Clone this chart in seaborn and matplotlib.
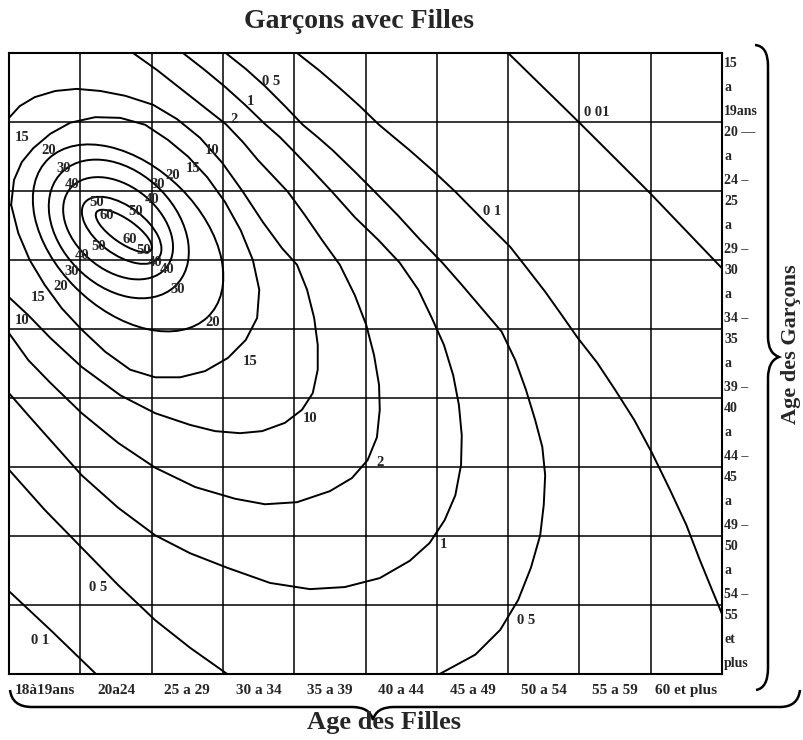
import matplotlib
matplotlib.use("Agg")
import matplotlib.pyplot as plt
from matplotlib.path import Path
from matplotlib.patches import PathPatch, Ellipse
import seaborn as sns
import pandas as pd

# Age groups (columns = girls, rows = boys)
girls_ages = ["18à19ans", "20a24", "25 a 29", "30 a 34", "35 a 39",
              "40 a 44", "45 a 49", "50 a 54", "55 a 59", "60 et plus"]
boys_ages = [("15", "a", "19ans"), ("20 —", "a", "24 –"), ("25", "a", "29 –"),
             ("30", "a", "34 –"), ("35", "a", "39 –"), ("40", "a", "44 –"),
             ("45", "a", "49 –"), ("50", "a", "54 –"), ("55", "et", "plus")]

# Inner closed iso-lines (nearly elliptical), in age-group units
ellipse_levels = ["60", "50", "40", "30", "20"]
ellipse_centers = [(1.61, 2.58), (1.58, 2.57), (1.53, 2.54), (1.54, 2.55), (1.67, 2.68)]
ellipse_widths = [0.94, 1.31, 1.77, 2.29, 3.20]
ellipse_heights = [0.34, 0.69, 1.20, 1.63, 2.06]
ellipse_angles = [36, 38, 42, 47, 46]

# Outer iso-lines: (girls' age group, boys' age group)
iso_15 = [(0.03, 2.20), (0.07, 1.84), (0.18, 1.58), (0.34, 1.38), (0.58, 1.17), (0.86, 1.01),
          (1.21, 0.93), (1.56, 0.94), (1.91, 1.04), (2.23, 1.26), (2.51, 1.50), (2.78, 1.80),
          (3.03, 2.16), (3.25, 2.57), (3.42, 3.00), (3.51, 3.43), (3.48, 3.84), (3.32, 4.16),
          (3.07, 4.42), (2.75, 4.61), (2.40, 4.70), (2.05, 4.70), (1.70, 4.59), (1.35, 4.33),
          (1.02, 4.01), (0.74, 3.70), (0.50, 3.36), (0.29, 3.00), (0.13, 2.61), (0.03, 2.20)]
iso_10 = [(0.00, 0.94), (0.15, 0.77), (0.36, 0.64), (0.65, 0.55), (0.95, 0.52), (1.28, 0.55),
          (1.63, 0.62), (2.02, 0.75), (2.36, 0.96), (2.68, 1.23), (2.99, 1.59), (3.28, 2.01),
          (3.56, 2.45), (3.83, 2.83), (4.04, 3.07), (4.18, 3.43), (4.28, 3.84), (4.33, 4.23),
          (4.33, 4.59), (4.26, 4.93), (4.11, 5.17), (3.87, 5.36), (3.55, 5.48), (3.24, 5.51),
          (2.89, 5.48), (2.54, 5.39), (2.05, 5.22), (1.56, 4.96), (1.02, 4.55), (0.58, 4.13),
          (0.27, 3.80), (0.00, 3.54)]
iso_2 = [(1.74, 0.00), (2.08, 0.25), (2.40, 0.51), (2.72, 0.77), (3.04, 1.03), (3.28, 1.29),
         (3.49, 1.55), (3.70, 1.78), (3.91, 2.01), (4.15, 2.35), (4.39, 2.71), (4.64, 3.07),
         (4.85, 3.51), (5.01, 3.94), (5.12, 4.38), (5.19, 4.81), (5.20, 5.17), (5.16, 5.57),
         (5.03, 5.90), (4.81, 6.16), (4.50, 6.35), (4.04, 6.51), (3.59, 6.54), (3.17, 6.46),
         (2.61, 6.29), (2.05, 6.01), (1.53, 5.65), (1.02, 5.22), (0.58, 4.78), (0.27, 4.45),
         (0.00, 4.06)]
iso_1 = [(2.44, 0.00), (2.75, 0.25), (3.03, 0.49), (3.31, 0.75), (3.59, 1.03), (3.80, 1.22),
         (3.98, 1.41), (4.25, 1.70), (4.53, 2.01), (4.85, 2.38), (5.18, 2.71), (5.48, 3.04),
         (5.74, 3.43), (5.93, 3.84), (6.10, 4.23), (6.23, 4.67), (6.31, 5.10), (6.35, 5.54),
         (6.34, 5.97), (6.26, 6.41), (6.11, 6.77), (5.90, 7.10), (5.62, 7.36), (5.20, 7.61),
         (4.71, 7.74), (4.22, 7.77), (3.66, 7.68), (3.06, 7.46), (2.54, 7.25), (2.05, 6.99),
         (1.53, 6.59), (1.02, 6.12), (0.58, 5.61), (0.27, 5.25), (0.00, 4.93)]
iso_05_top = [(3.04, 0.00), (3.32, 0.23), (3.59, 0.48), (3.87, 0.77), (4.12, 1.04), (4.33, 1.22),
              (4.54, 1.41), (4.85, 1.72), (5.13, 2.01), (5.46, 2.36), (5.76, 2.70), (6.07, 3.03),
              (6.35, 3.36), (6.63, 3.70), (6.91, 4.04), (7.10, 4.45), (7.25, 4.88), (7.38, 5.32),
              (7.48, 5.71), (7.52, 6.12), (7.50, 6.55), (7.45, 6.99), (7.32, 7.46), (7.14, 7.93),
              (6.89, 8.36), (6.54, 8.72), (6.04, 9.00)]
iso_05_low = [(0.00, 6.04), (0.50, 6.62), (1.02, 7.17), (1.53, 7.71), (2.05, 8.22), (2.54, 8.62),
              (3.06, 9.00)]
iso_01_top = [(4.04, 0.00), (4.36, 0.26), (4.64, 0.51), (4.92, 0.77), (5.19, 1.04), (5.41, 1.23),
              (5.62, 1.41), (5.95, 1.71), (6.26, 2.01), (6.65, 2.42), (7.03, 2.81), (7.28, 3.14),
              (7.52, 3.46), (7.74, 3.78), (7.97, 4.12), (8.25, 4.49), (8.50, 4.88), (8.77, 5.32),
              (9.02, 5.80), (9.27, 6.33), (9.50, 6.84), (9.69, 7.35), (9.86, 7.78), (10.00, 8.13)]
iso_01_low = [(0.00, 7.80), (0.60, 8.38), (1.22, 9.00)]
iso_001 = [(7.00, 0.00), (8.00, 1.01), (8.99, 2.03), (10.00, 3.12)]

traced_lines = [iso_15, iso_10, iso_2, iso_1, iso_05_top, iso_05_low,
                iso_01_top, iso_01_low, iso_001]

# Level labels written beside the curves
level_labels = [
    ("15", 0.18, 1.22), ("20", 0.55, 1.41), ("30", 0.76, 1.67), ("40", 0.88, 1.90),
    ("50", 1.23, 2.17), ("60", 1.37, 2.35), ("50", 1.77, 2.30), ("40", 2.01, 2.13),
    ("30", 2.08, 1.91), ("20", 2.30, 1.77), ("15", 2.58, 1.67), ("10", 2.85, 1.41),
    ("60", 1.70, 2.70), ("50", 1.25, 2.81), ("50", 1.89, 2.86), ("40", 1.02, 2.94),
    ("40", 2.05, 3.03), ("40", 2.22, 3.14), ("30", 0.88, 3.17), ("30", 2.37, 3.43),
    ("20", 0.72, 3.39), ("15", 0.41, 3.55), ("20", 2.85, 3.90), ("10", 0.18, 3.88),
    ("15", 3.38, 4.47), ("10", 4.22, 5.29), ("2", 5.20, 5.93), ("1", 6.10, 7.13),
    ("0 5", 1.25, 7.75), ("0 5", 7.25, 8.22), ("0 1", 0.43, 8.51), ("0 1", 6.78, 2.30),
    ("0 01", 8.25, 0.86), ("0 5", 3.68, 0.42), ("1", 3.38, 0.71), ("2", 3.15, 0.97),
]

sns.set_style("white")
plt.rcParams['font.family'] = ['Liberation Serif', 'DejaVu Serif']

fig = plt.figure(figsize=(8.04, 7.40), dpi=100)
ax = fig.add_axes([9 / 804, 1 - 674 / 740, 713 / 804, 621 / 740])

# Grid of age groups
for i in range(1, 10):
    ax.axvline(i, color="black", lw=1.1)
for j in range(1, 9):
    ax.axhline(j, color="black", lw=1.1)

# Inner iso-lines
for c, w, h, a in zip(ellipse_centers, ellipse_widths, ellipse_heights, ellipse_angles):
    ax.add_patch(Ellipse(c, w, h, angle=a, fill=False, edgecolor="black", lw=1.4))

# Outer iso-lines
for pts in traced_lines:
    df = pd.DataFrame(pts, columns=["fille", "garcon"])
    sns.lineplot(data=df, x="fille", y="garcon", sort=False, estimator=None,
                 color="black", lw=1.4, ax=ax)

for txt, x, y in level_labels:
    ax.text(x, y, txt, fontsize=10.5, fontweight="bold", ha="center", va="center")

ax.set_xlim(0, 10)
ax.set_ylim(9, 0)
ax.set_xlabel("")
ax.set_ylabel("")
for s in ax.spines.values():
    s.set_color("black")
    s.set_linewidth(1.5)

ax.set_xticks([i + 0.5 for i in range(10)])
ax.set_xticklabels(girls_ages, fontsize=11, fontweight="bold")
ax.tick_params(axis="x", length=0, pad=7)
ax.set_yticks([])

# Boys' age groups on the right
for r, (top, mid, bot) in enumerate(boys_ages):
    for dy, t in [(0.15, top), (0.5, mid), (0.85, bot)]:
        ax.text(10.03, r + dy, t, fontsize=10, fontweight="bold",
                ha="left", va="center", clip_on=False)

fig.text(359 / 804, 1 - 21 / 740, "Garçons avec Filles", ha="center", va="center",
         fontsize=20, fontweight="bold")
fig.text(384 / 804, 1 - 723 / 740, "Age des Filles", ha="center", va="center",
         fontsize=19, fontweight="bold")
fig.text(791 / 804, 1 - 344 / 740, "Age des Garçons", ha="center", va="center",
         fontsize=16, fontweight="bold", rotation=90)


def px(x, y):
    return (x / 804, 1 - y / 740)


# Braces
brace_codes = [Path.MOVETO, Path.CURVE3, Path.CURVE3, Path.LINETO, Path.CURVE3, Path.CURVE3,
               Path.CURVE3, Path.CURVE3, Path.LINETO, Path.CURVE3, Path.CURVE3]
bottom = [px(10, 690), px(12, 707), px(32, 707), px(352, 707), px(370, 707), px(373, 720),
          px(376, 707), px(394, 707), px(780, 707), px(798, 707), px(800, 690)]
right = [px(755, 45), px(768, 46), px(768, 66), px(768, 337), px(768, 353), px(779, 357),
         px(768, 361), px(768, 378), px(768, 668), px(768, 688), px(756, 690)]
for verts in (bottom, right):
    fig.patches.append(PathPatch(Path(verts, brace_codes), fill=False, lw=1.8,
                                 edgecolor="black", transform=fig.transFigure))

fig.savefig("out.png", dpi=100)
